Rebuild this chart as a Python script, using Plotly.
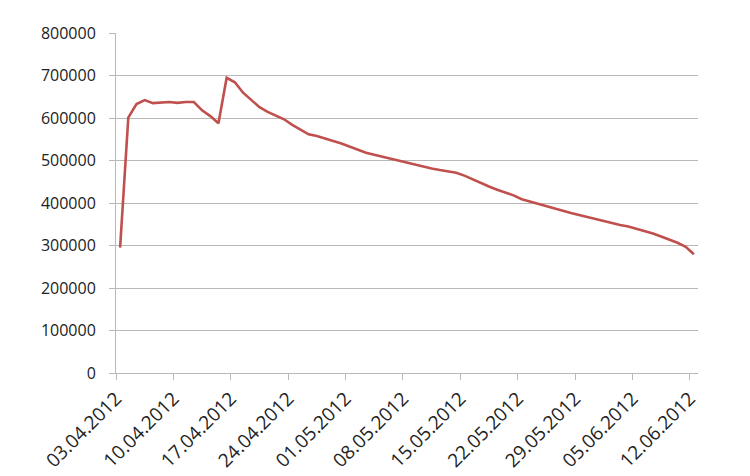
import pandas as pd
import plotly.graph_objects as go

start_date = "2012-04-03"
n_days = 71
dates = pd.date_range(start_date, periods=n_days, freq="D")

values = [
    295000, 601000, 633000, 642000, 635000, 637000, 637500, 635500, 637500, 637500,
    618000, 604500, 587500, 694500, 684000, 659500, 642300, 625500, 614500, 606500,
    597000, 584000, 573500, 561500, 557500, 551000, 545800, 540000, 532500, 524500,
    518500, 513800, 509100, 504700, 499500, 494400, 489700, 485100, 481400, 477500,
    474400, 471300, 464400, 455500, 446500, 439000, 431300, 424800, 418000, 409000,
    403300, 397700, 392300, 386600, 381500, 376600, 371800, 366800, 361800, 357100,
    352500, 348400, 344500, 339600, 334200, 328300, 321000, 313800, 306400, 297000,
    279500,
]

tick_dates = pd.date_range(start_date, "2012-06-12", freq="7D")
tick_labels = [d.strftime("%d.%m.%Y") for d in tick_dates]
y_ticks = list(range(0, 800001, 100000))

# Excel-style date axis: each day's point sits in the middle of its day slot
x_points = dates + pd.Timedelta(hours=12)

fig = go.Figure()
fig.add_trace(go.Scatter(
    x=x_points, y=values, mode="lines",
    line=dict(color="#C0504D", width=2.6),
    hoverinfo="x+y", showlegend=False,
))

grid = "#B8B8B8"
fig.update_layout(
    width=750, height=476,
    margin=dict(l=116, r=52, t=33, b=103, autoexpand=False),
    paper_bgcolor="white", plot_bgcolor="white",
    font=dict(family="Open Sans, Liberation Sans, Arial", color="#222222"),
    xaxis=dict(
        type="date", automargin=False,
        range=[pd.Timestamp(start_date), pd.Timestamp("2012-06-13")],
        tickvals=list(tick_dates), ticktext=tick_labels,
        tickangle=-45, tickfont=dict(size=19),
        showgrid=False, zeroline=False,
        showline=True, linecolor=grid, linewidth=1,
        ticks="outside", ticklen=6, tickcolor=grid, tickwidth=1,
    ),
    yaxis=dict(
        automargin=False,
        range=[0, 800000], tickvals=y_ticks,
        ticktext=[str(v) for v in y_ticks],
        tickfont=dict(size=16),
        showgrid=True, gridcolor=grid, gridwidth=1,
        zeroline=False,
        showline=True, linecolor=grid, linewidth=1,
        ticks="outside", ticklen=6, tickcolor=grid, tickwidth=1,
        ticklabelstandoff=10,
    ),
)

fig.write_html(
    "out.html",
    config={"displayModeBar": False},
    post_script="document.body.style.margin='0';document.body.style.overflow='hidden';",
)
